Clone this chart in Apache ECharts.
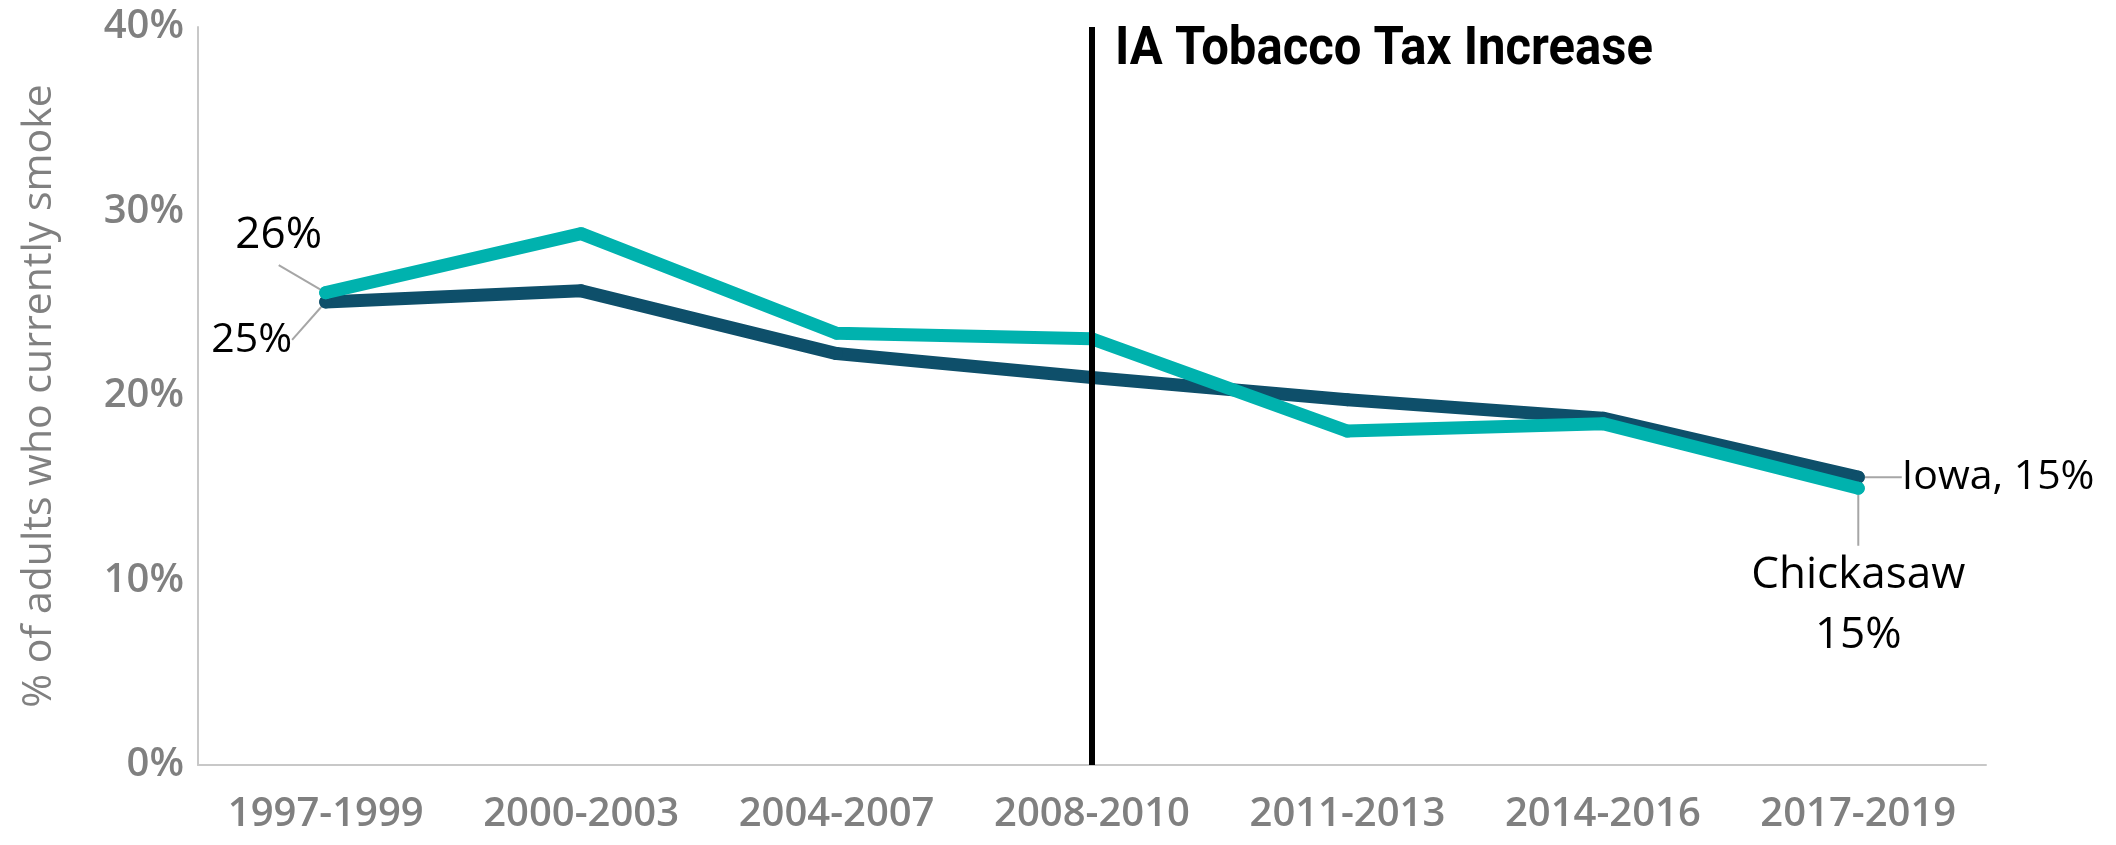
<!DOCTYPE html>
<html>
<head>
<meta charset="utf-8">
<script src="https://cdn.jsdelivr.net/npm/echarts@6/dist/echarts.min.js"></script>
<style>
  html, body { margin: 0; padding: 0; background: #fff; }
  #main { width: 2116px; height: 845px; }
</style>
</head>
<body>
<div id="main"></div>
<script>
const periods = ['1997-1999', '2000-2003', '2004-2007', '2008-2010', '2011-2013', '2014-2016', '2017-2019']
const iowa = [25.1, 25.7, 22.3, 21.0, 19.8, 18.8, 15.6]
const chickasaw = [25.6, 28.8, 23.4, 23.1, 18.1, 18.5, 15.0]
const iowaLabels = ['25%', '', '', '', '', '', 'Iowa, 15%']
const chickasawLabels = ['26%', '', '', '', '', '', 'Chickasaw\n15%']
const taxPeriod = '2008-2010'
const taxText = 'IA Tobacco Tax Increase'

const labelFont = 'Open Sans'
const gray = '#808080'

const chart = echarts.init(document.getElementById('main'))

function withLabels(values, labels, pos) {
  return values.map((v, i) => {
    if (!labels[i]) return { value: v }
    return { value: v, label: { show: true, formatter: labels[i], position: pos[i] } }
  })
}

// squeeze the bold annotation to a condensed look
const taxFont = 'bold 53px Roboto'
const ctx = document.createElement('canvas').getContext('2d')
ctx.font = taxFont
const taxScale = 538 / ctx.measureText(taxText).width

const option = {
  animation: false,
  grid: { left: 198, right: 130, top: 27, bottom: 80 },
  xAxis: {
    type: 'category',
    data: periods,
    boundaryGap: true,
    axisLine: { lineStyle: { color: '#c8c8c8', width: 2 } },
    axisTick: { show: false },
    axisLabel: { color: gray, fontSize: 40, fontWeight: 600, fontFamily: labelFont, margin: 30 },
  },
  yAxis: {
    type: 'value',
    min: 0,
    max: 40,
    interval: 10,
    name: '% of adults who currently smoke',
    nameLocation: 'middle',
    nameGap: 138,
    nameTextStyle: { color: gray, fontSize: 41, fontFamily: labelFont },
    axisLine: { show: true, lineStyle: { color: '#c8c8c8', width: 2 } },
    axisTick: { show: false },
    splitLine: { show: false },
    axisLabel: { color: gray, fontSize: 40, fontWeight: 600, fontFamily: labelFont, margin: 14, formatter: '{value}%' },
  },
  series: [
    {
      name: 'Iowa',
      type: 'line',
      data: withLabels(iowa, iowaLabels, ['bottom', '', '', '', '', '', 'right']),
      symbol: 'circle',
      symbolSize: 13,
      itemStyle: { color: '#0e4f6a' },
      lineStyle: { color: '#0e4f6a', width: 13, cap: 'round', join: 'round' },
      label: { color: '#000', fontSize: 41, fontWeight: 500, fontFamily: labelFont },
      labelLine: { show: true, lineStyle: { color: '#a6a6a6', width: 2 } },
      labelLayout: function (p) {
        if (p.dataIndex === 0) return { dx: -74, dy: 6 }
        if (p.dataIndex === 6) return { dx: 32, dy: 0 }
        return {}
      },
      markLine: {
        symbol: 'none',
        silent: true,
        label: { show: false },
        lineStyle: { color: '#000', width: 6, type: 'solid' },
        data: [{ xAxis: taxPeriod }],
      },
      z: 2,
    },
    {
      name: 'Chickasaw',
      type: 'line',
      data: withLabels(chickasaw, chickasawLabels, ['top', '', '', '', '', '', 'bottom']),
      symbol: 'circle',
      symbolSize: 13,
      itemStyle: { color: '#00b2ae' },
      lineStyle: { color: '#00b2ae', width: 13, cap: 'round', join: 'round' },
      label: { color: '#000', fontSize: 44, fontWeight: 500, fontFamily: labelFont, lineHeight: 60, align: 'center' },
      labelLine: { show: true, lineStyle: { color: '#a6a6a6', width: 2 } },
      labelLayout: function (p) {
        if (p.dataIndex === 0) return { dx: -47, dy: -16 }
        if (p.dataIndex === 6) return { dx: 0, dy: 46 }
        return {}
      },
      z: 3,
    },
  ],
  graphic: [
    {
      type: 'text',
      x: 1115,
      y: 51,
      scaleX: taxScale,
      style: {
        text: taxText,
        fill: '#000',
        font: taxFont,
        verticalAlign: 'middle',
      },
    },
  ],
}

chart.setOption(option)
</script>
</body>
</html>
